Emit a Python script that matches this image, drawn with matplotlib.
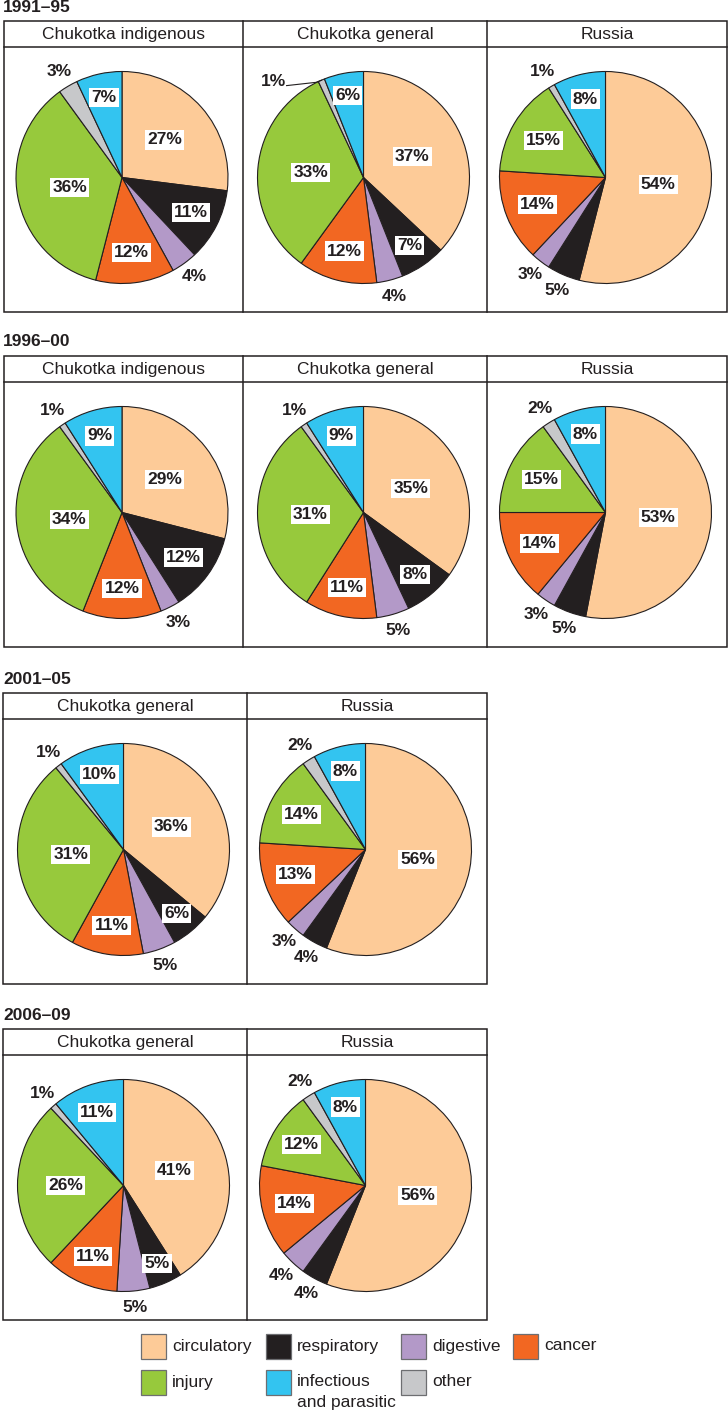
import matplotlib
matplotlib.use('Agg')
import matplotlib.pyplot as plt
from matplotlib.patches import Rectangle
import numpy as np

plt.rcParams['font.family'] = ['Liberation Sans', 'DejaVu Sans']

# ---------------- data ----------------
# pie order (clockwise from 12 o'clock)
pie_categories = ['circulatory', 'respiratory', 'digestive', 'cancer', 'injury', 'other', 'infectious']
legend_labels = ['circulatory', 'respiratory', 'digestive', 'cancer',
                 'injury', 'infectious\nand parasitic', 'other']
legend_keys = ['circulatory', 'respiratory', 'digestive', 'cancer', 'injury', 'infectious', 'other']

periods = ['1991–95', '1996–00', '2001–05', '2006–09']

ind_1991 = [27, 11, 4, 12, 36, 3, 7]
gen_1991 = [37, 7, 4, 12, 33, 1, 6]
rus_1991 = [54, 5, 3, 14, 15, 1, 8]

ind_1996 = [29, 12, 3, 12, 34, 1, 9]
gen_1996 = [35, 8, 5, 11, 31, 1, 9]
rus_1996 = [53, 5, 3, 14, 15, 2, 8]

gen_2001 = [36, 6, 5, 11, 31, 1, 10]
rus_2001 = [56, 4, 3, 13, 14, 2, 8]

gen_2006 = [41, 5, 5, 11, 26, 1, 11]
rus_2006 = [56, 4, 4, 14, 12, 2, 8]

panels = [
    [('Chukotka indigenous', ind_1991), ('Chukotka general', gen_1991), ('Russia', rus_1991)],
    [('Chukotka indigenous', ind_1996), ('Chukotka general', gen_1996), ('Russia', rus_1996)],
    [('Chukotka general', gen_2001), ('Russia', rus_2001)],
    [('Chukotka general', gen_2006), ('Russia', rus_2006)],
]

colors = {
    'circulatory': '#FDCB98',
    'respiratory': '#231F20',
    'digestive': '#B399C8',
    'cancer': '#F26722',
    'injury': '#97C93C',
    'infectious': '#33C4F0',
    'other': '#C7C8CA',
}

# ---------------- layout (pixels) ----------------
W, H = 728, 1412
DPI = 100
fig = plt.figure(figsize=(W / DPI, H / DPI), dpi=DPI)
fig.patch.set_facecolor('white')
bg = fig.add_axes([0, 0, 1, 1])
bg.set_xlim(0, W)
bg.set_ylim(H, 0)
bg.axis('off')

TXT = '#231F20'
FS = 12.5
box_tops = [21, 356, 693, 1029]
col_edges = [[4, 243, 487, 727], [4, 243, 487, 727], [3, 247, 487], [3, 247, 487]]
HEAD = 26
BOXH = 291
R = 106
LW = 1.1

for bi, (period, top, edges, row) in enumerate(zip(periods, box_tops, col_edges, panels)):
    bg.text(3, top - 14, period, fontsize=FS, fontweight='bold', ha='left', va='center', color=TXT)
    bg.add_patch(Rectangle((edges[0], top), edges[-1] - edges[0], BOXH, fill=False,
                           edgecolor=TXT, lw=LW))
    bg.plot([edges[0], edges[-1]], [top + HEAD, top + HEAD], color=TXT, lw=LW)
    for e in edges[1:-1]:
        bg.plot([e, e], [top, top + BOXH], color=TXT, lw=LW)
    for ci, (name, vals) in enumerate(row):
        x0, x1 = edges[ci], edges[ci + 1]
        bg.text((x0 + x1) / 2, top + HEAD / 2 + 0.5, name, fontsize=FS, ha='center', va='center', color=TXT)
        cx = (x0 + x1) / 2 - 1.5
        cy = top + HEAD + (BOXH - HEAD) / 2 - 2
        ax = fig.add_axes([(cx - R) / W, 1 - (cy + R) / H, 2 * R / W, 2 * R / H])
        wedges, _ = ax.pie(vals, radius=1, startangle=90, counterclock=False,
                           colors=[colors[c] for c in pie_categories],
                           wedgeprops=dict(edgecolor=TXT, linewidth=0.8))
        ax.set_xlim(-1, 1)
        ax.set_ylim(-1, 1)
        ax.set_aspect('equal')
        ax.axis('off')
        for w, v, cat in zip(wedges, vals, pie_categories):
            mid = np.deg2rad((w.theta1 + w.theta2) / 2)
            outside = cat in ('digestive', 'other') or (name == 'Russia' and cat == 'respiratory')
            lab = f'{v}%'
            if outside:
                middeg = np.rad2deg(mid) % 360
                if 95 < middeg < 118:
                    la = np.deg2rad(133)
                    lx, ly = 1.24 * np.cos(la), 1.24 * np.sin(la)
                    ex, ey = 1.0 * np.cos(mid), 1.0 * np.sin(mid)
                    ax.plot([lx + 0.12, ex - 0.05, ex], [ly - 0.04, ey - 0.02, ey],
                            color=TXT, lw=0.8, clip_on=False)
                    ax.text(lx, ly, lab, fontsize=FS, fontweight='bold', ha='center',
                            va='center', color=TXT)
                else:
                    r = 1.16
                    ax.text(r * np.cos(mid), r * np.sin(mid), lab, fontsize=FS,
                            fontweight='bold', ha='center', va='center', color=TXT)
            else:
                r = max(0.5, 0.86 - 0.012 * v)
                ax.text(r * np.cos(mid), r * np.sin(mid), lab, fontsize=FS, fontweight='bold',
                        ha='center', va='center', color=TXT,
                        bbox=dict(facecolor='white', edgecolor='none', pad=1.5))

# ---------------- legend ----------------
patch_x = [141, 266, 401, 513]
row_y = [1346, 1382]
PS = 25
for i, (key, lab) in enumerate(zip(legend_keys, legend_labels)):
    r_i, c_i = divmod(i, 4)
    px = patch_x[c_i]
    py = row_y[r_i]
    bg.add_patch(Rectangle((px, py - PS / 2), PS, PS, facecolor=colors[key],
                           edgecolor='#6d6e71', lw=0.9))
    if '\n' in lab:
        first, second = lab.split('\n')
        bg.text(px + 31, py, first, fontsize=FS, ha='left', va='center', color=TXT)
        bg.text(px + 31, py + 21, second, fontsize=FS, ha='left', va='center', color=TXT)
    else:
        bg.text(px + 31, py, lab, fontsize=FS, ha='left', va='center', color=TXT)

fig.savefig('out.png', dpi=DPI, facecolor='white')
